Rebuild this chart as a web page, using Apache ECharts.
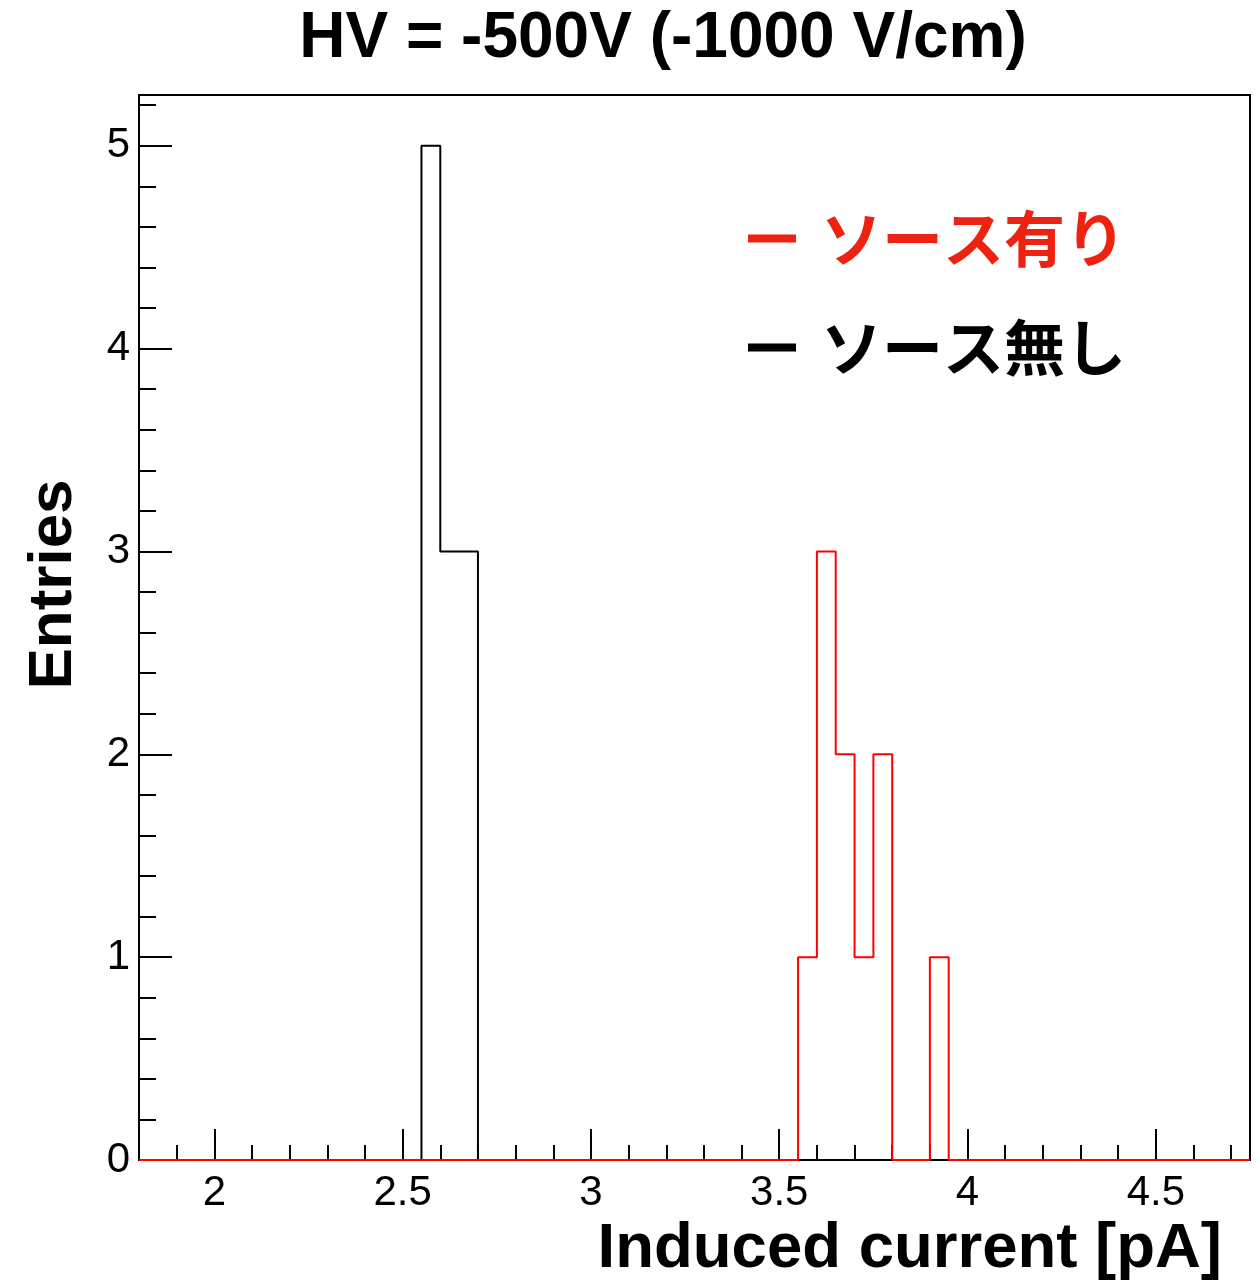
<!DOCTYPE html>
<html>
<head>
<meta charset="utf-8">
<style>
  html, body { margin: 0; padding: 0; background: #fff; }
  #chart { width: 1257px; height: 1281px; }
</style>
<script src="https://cdn.jsdelivr.net/npm/echarts@6/dist/echarts.min.js"></script>
</head>
<body>
<div id="chart"></div>
<script>
  // axis range of the frame
  const xMin = 1.8
  const xMax = 4.75
  const yMax = 5.25
  const binWidth = 0.05

  // ソース有り (red)
  const withSourceEdges = [3.55, 3.60, 3.65, 3.70, 3.75, 3.80, 3.85, 3.90]
  const withSourceCounts = [1, 3, 2, 1, 2, 0, 0, 1]
  // ソース無し (black)
  const noSourceEdges = [2.55, 2.60, 2.65]
  const noSourceCounts = [5, 3, 3]

  const xTickLabels = [2, 2.5, 3, 3.5, 4, 4.5]
  const yTickLabels = [0, 1, 2, 3, 4, 5]

  // minor ticks: 0.1 on x, 0.2 on y
  const xMinorTicks = []
  for (let k = 19; k <= 47; k++) {
    if (k % 5 !== 0) xMinorTicks.push(k / 10)
  }
  const yMinorTicks = []
  for (let k = 1; k <= 26; k++) {
    if (k % 5 !== 0) yMinorTicks.push(k / 5)
  }

  // histogram outline as step points (lower edge, count)
  function histSteps(edges, counts) {
    const pts = [[xMin, 0]]
    edges.forEach((e, i) => pts.push([e, counts[i]]))
    const last = Math.round((edges[edges.length - 1] + binWidth) * 100) / 100
    pts.push([last, 0])
    pts.push([xMax, 0])
    return pts
  }

  const latin = 'Liberation Sans'
  const cjk = 'Noto Sans CJK JP'

  const chart = echarts.init(document.getElementById('chart'))
  chart.setOption({
    animation: false,
    backgroundColor: '#fff',
    title: {
      text: 'HV = -500V (-1000 V/cm)',
      left: 658,
      textAlign: 'center',
      top: 2,
      textStyle: { fontFamily: latin, fontWeight: 'bold', fontSize: 64, color: '#000' }
    },
    legend: {
      orient: 'vertical',
      left: 743,
      top: 197,
      itemWidth: 48,
      itemHeight: 8,
      itemGap: 36,
      selectedMode: false,
      icon: 'rect',
      textStyle: { fontFamily: cjk, fontWeight: 'bold', fontSize: 61, lineHeight: 61, padding: [0, 0, 12, 20] },
      data: [
        { name: 'ソース有り', itemStyle: { color: '#ee2211' }, textStyle: { color: '#ee2211' } },
        { name: 'ソース無し', itemStyle: { color: '#000' }, textStyle: { color: '#000' } }
      ]
    },
    grid: {
      left: 139,
      right: 7,
      top: 95,
      bottom: 119,
      show: true,
      borderColor: '#000',
      borderWidth: 2
    },
    xAxis: [{
      type: 'value',
      min: xMin,
      max: xMax,
      position: 'bottom',
      axisLine: { show: false },
      splitLine: { show: false },
      axisTick: { inside: true, length: 31, lineStyle: { color: '#000', width: 2 }, customValues: xTickLabels },
      axisLabel: { customValues: xTickLabels, fontFamily: latin, fontSize: 42, color: '#000', margin: 12 },
      name: 'Induced current [pA]',
      nameLocation: 'end',
      nameGap: 0,
      nameTextStyle: {
        fontFamily: latin, fontWeight: 'bold', fontSize: 63.5, color: '#000',
        align: 'right', verticalAlign: 'top', padding: [57, 28, 0, 0]
      }
    }, {
      type: 'value',
      min: xMin,
      max: xMax,
      position: 'bottom',
      axisLine: { show: false },
      splitLine: { show: false },
      axisTick: { inside: true, length: 15, lineStyle: { color: '#000', width: 2 }, customValues: xMinorTicks },
      axisLabel: { show: false }
    }],
    yAxis: [{
      type: 'value',
      min: 0,
      max: yMax,
      position: 'left',
      axisLine: { show: false },
      splitLine: { show: false },
      axisTick: { inside: true, length: 33, lineStyle: { color: '#000', width: 2 }, customValues: yTickLabels },
      axisLabel: { customValues: yTickLabels, fontFamily: latin, fontSize: 42, color: '#000', margin: 9 },
      name: 'Entries',
      nameLocation: 'middle',
      nameGap: 54,
      nameTextStyle: {
        fontFamily: latin, fontWeight: 'bold', fontSize: 62, color: '#000',
        padding: [0, 0, 0, 86]
      }
    }, {
      type: 'value',
      min: 0,
      max: yMax,
      position: 'left',
      offset: 0,
      axisLine: { show: false },
      splitLine: { show: false },
      axisTick: { inside: true, length: 17, lineStyle: { color: '#000', width: 2 }, customValues: yMinorTicks },
      axisLabel: { show: false }
    }],
    series: [{
      name: 'ソース無し',
      type: 'line',
      step: 'end',
      showSymbol: false,
      clip: false,
      z: 2,
      color: '#000',
      lineStyle: { color: '#000', width: 2 },
      data: histSteps(noSourceEdges, noSourceCounts)
    }, {
      name: 'ソース有り',
      type: 'line',
      step: 'end',
      showSymbol: false,
      clip: false,
      z: 3,
      color: '#ff0000',
      lineStyle: { color: '#ff0000', width: 2 },
      data: histSteps(withSourceEdges, withSourceCounts)
    }]
  })
</script>
</body>
</html>
